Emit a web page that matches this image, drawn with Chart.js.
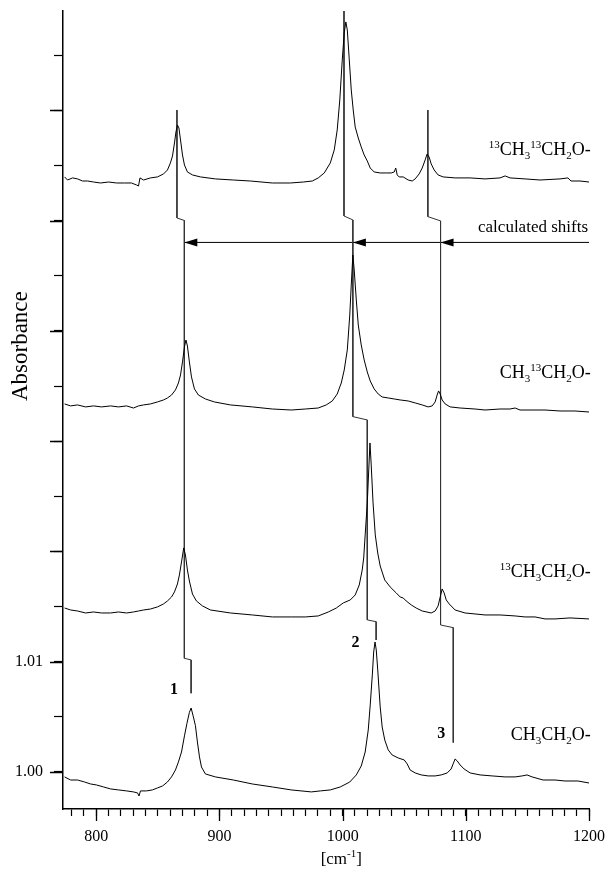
<!DOCTYPE html>
<html>
<head>
<meta charset="utf-8">
<script src="https://cdn.jsdelivr.net/npm/chart.js@4.4.0/dist/chart.umd.min.js"></script>
<style>
  body { margin: 0; background: #fff; }
  canvas { display: block; }
</style>
</head>
<body>
<canvas id="myChart" width="607" height="869"></canvas>
<script>
// spectra, wavenumber [cm-1] / absorbance, top one first
const wnA = [774.3, 776.7, 780.8, 784.8, 788.9, 793.0, 797.8, 803.5, 810.0, 816.5, 822.9, 828.6, 832.7, 834.3, 835.5, 838.4, 844.0, 849.7, 854.6, 857.8, 860.2, 861.9, 863.5, 864.7, 865.9, 867.1, 868.4, 870.0, 871.6, 874.0, 878.1, 884.6, 896.7, 911.3, 925.1, 942.9, 957.5, 968.1, 975.4, 980.2, 985.1, 990.0, 993.2, 995.6, 997.7, 999.7, 1001.3, 1002.6, 1003.8, 1005.4, 1007.0, 1008.6, 1010.2, 1012.7, 1015.1, 1017.5, 1020.0, 1022.4, 1025.6, 1030.5, 1035.4, 1039.4, 1041.9, 1043.1, 1044.3, 1045.9, 1049.2, 1053.2, 1056.5, 1058.9, 1062.1, 1064.6, 1067.0, 1068.6, 1070.2, 1071.9, 1074.3, 1077.5, 1081.6, 1091.3, 1103.5, 1115.6, 1127.8, 1131.9, 1135.9, 1148.1, 1160.2, 1176.5, 1182.9, 1185.4, 1192.7, 1200.0]
const absA = [1.05397, 1.05369, 1.05388, 1.05379, 1.05360, 1.05360, 1.05351, 1.05342, 1.05351, 1.05342, 1.05342, 1.05342, 1.05324, 1.05315, 1.05388, 1.05369, 1.05388, 1.05397, 1.05424, 1.05460, 1.05524, 1.05587, 1.05705, 1.05805, 1.05868, 1.05841, 1.05732, 1.05596, 1.05505, 1.05442, 1.05415, 1.05397, 1.05379, 1.05369, 1.05360, 1.05342, 1.05342, 1.05351, 1.05360, 1.05388, 1.05433, 1.05524, 1.05642, 1.05823, 1.06095, 1.06458, 1.06703, 1.06803, 1.06730, 1.06458, 1.06186, 1.06004, 1.05850, 1.05750, 1.05669, 1.05596, 1.05542, 1.05478, 1.05442, 1.05433, 1.05433, 1.05433, 1.05442, 1.05478, 1.05415, 1.05397, 1.05397, 1.05369, 1.05360, 1.05379, 1.05424, 1.05478, 1.05551, 1.05605, 1.05578, 1.05515, 1.05460, 1.05415, 1.05397, 1.05388, 1.05388, 1.05379, 1.05388, 1.05406, 1.05388, 1.05379, 1.05369, 1.05379, 1.05388, 1.05360, 1.05360, 1.05351]

const wnB = [774.3, 779.2, 784.8, 791.3, 797.8, 804.3, 811.6, 818.1, 824.6, 830.2, 834.3, 838.4, 844.0, 849.7, 854.6, 857.8, 861.1, 864.3, 866.7, 868.4, 870.0, 871.6, 872.8, 874.0, 875.6, 877.3, 879.7, 882.9, 888.6, 895.9, 908.9, 926.7, 942.9, 958.3, 969.7, 980.2, 986.7, 991.6, 995.6, 998.9, 1001.3, 1003.8, 1005.8, 1007.0, 1008.3, 1009.4, 1011.1, 1012.7, 1015.1, 1017.5, 1020.0, 1022.4, 1025.6, 1028.9, 1032.1, 1037.0, 1041.9, 1046.7, 1053.2, 1058.9, 1064.6, 1069.4, 1072.7, 1075.1, 1076.7, 1077.9, 1079.2, 1080.8, 1083.2, 1087.3, 1095.4, 1107.5, 1115.6, 1127.8, 1135.9, 1140.0, 1144.0, 1152.1, 1164.3, 1176.5, 1188.6, 1200.0]
const absB = [1.03338, 1.03320, 1.03329, 1.03311, 1.03320, 1.03311, 1.03320, 1.03311, 1.03320, 1.03301, 1.03320, 1.03329, 1.03338, 1.03356, 1.03374, 1.03392, 1.03419, 1.03465, 1.03528, 1.03601, 1.03719, 1.03855, 1.03918, 1.03864, 1.03719, 1.03583, 1.03474, 1.03419, 1.03383, 1.03356, 1.03329, 1.03311, 1.03292, 1.03283, 1.03292, 1.03301, 1.03329, 1.03365, 1.03428, 1.03528, 1.03646, 1.03828, 1.04145, 1.04417, 1.04689, 1.04553, 1.04281, 1.04054, 1.03873, 1.03737, 1.03628, 1.03546, 1.03474, 1.03428, 1.03401, 1.03392, 1.03383, 1.03374, 1.03365, 1.03347, 1.03329, 1.03311, 1.03320, 1.03356, 1.03419, 1.03456, 1.03428, 1.03374, 1.03338, 1.03311, 1.03301, 1.03292, 1.03283, 1.03292, 1.03292, 1.03301, 1.03283, 1.03283, 1.03283, 1.03274, 1.03274, 1.03265]

const wnC = [774.3, 779.2, 784.8, 791.3, 797.8, 804.3, 811.6, 818.1, 824.6, 830.2, 834.3, 838.4, 844.0, 849.7, 854.6, 857.8, 861.1, 863.5, 865.9, 867.5, 869.2, 871.0, 872.4, 874.0, 875.6, 878.1, 881.3, 886.2, 892.7, 908.9, 926.7, 942.9, 958.3, 969.7, 980.2, 988.4, 994.9, 1000.5, 1006.2, 1010.2, 1013.5, 1015.9, 1017.1, 1018.3, 1020.0, 1021.2, 1022.2, 1023.2, 1024.7, 1026.5, 1028.5, 1030.5, 1034.2, 1038.6, 1043.5, 1046.7, 1049.2, 1051.6, 1055.7, 1059.7, 1064.6, 1071.9, 1075.1, 1077.5, 1079.2, 1080.8, 1082.4, 1084.1, 1086.5, 1091.3, 1099.4, 1107.5, 1115.6, 1127.8, 1140.0, 1148.1, 1156.2, 1164.3, 1172.4, 1184.6, 1200.0]
const absC = [1.01487, 1.01469, 1.01460, 1.01442, 1.01451, 1.01442, 1.01442, 1.01451, 1.01442, 1.01451, 1.01460, 1.01469, 1.01478, 1.01497, 1.01524, 1.01551, 1.01587, 1.01633, 1.01705, 1.01787, 1.01905, 1.02032, 1.01968, 1.01832, 1.01732, 1.01614, 1.01551, 1.01506, 1.01469, 1.01442, 1.01424, 1.01406, 1.01406, 1.01406, 1.01415, 1.01451, 1.01487, 1.01533, 1.01560, 1.01605, 1.01696, 1.01832, 1.01941, 1.02150, 1.02440, 1.02739, 1.02984, 1.02785, 1.02440, 1.02150, 1.01986, 1.01868, 1.01741, 1.01678, 1.01624, 1.01587, 1.01578, 1.01551, 1.01515, 1.01487, 1.01460, 1.01442, 1.01460, 1.01506, 1.01587, 1.01660, 1.01624, 1.01560, 1.01524, 1.01469, 1.01442, 1.01433, 1.01424, 1.01424, 1.01415, 1.01406, 1.01406, 1.01388, 1.01388, 1.01397, 1.01388]

const wnD = [774.3, 779.2, 784.8, 790.5, 795.4, 800.2, 805.9, 811.6, 818.1, 824.6, 830.2, 833.5, 834.7, 835.9, 840.8, 845.6, 849.7, 853.8, 857.8, 861.1, 864.3, 866.7, 869.2, 871.6, 873.6, 875.6, 877.0, 878.5, 880.5, 882.1, 883.8, 885.4, 888.6, 896.7, 911.3, 926.7, 942.9, 958.3, 974.6, 981.9, 990.0, 998.1, 1005.8, 1011.1, 1015.1, 1018.3, 1020.8, 1022.4, 1024.1, 1025.2, 1026.3, 1027.3, 1028.5, 1030.5, 1032.1, 1034.2, 1037.0, 1040.2, 1045.1, 1050.0, 1052.4, 1054.8, 1058.9, 1063.8, 1069.4, 1075.1, 1080.0, 1084.9, 1088.1, 1089.7, 1091.3, 1093.0, 1095.4, 1098.6, 1103.5, 1111.6, 1121.4, 1131.9, 1140.0, 1145.7, 1149.7, 1153.8, 1162.7, 1172.4, 1180.5, 1191.0, 1200.0]
const absD = [0.99955, 0.99927, 0.99927, 0.99909, 0.99891, 0.99882, 0.99864, 0.99846, 0.99837, 0.99828, 0.99819, 0.99810, 0.99782, 0.99828, 0.99828, 0.99837, 0.99855, 0.99873, 0.99909, 0.99955, 1.00018, 1.00091, 1.00181, 1.00327, 1.00440, 1.00540, 1.00580, 1.00515, 1.00420, 1.00272, 1.00136, 1.00045, 0.99982, 0.99955, 0.99927, 0.99891, 0.99864, 0.99837, 0.99819, 0.99828, 0.99837, 0.99864, 0.99909, 0.99973, 1.00054, 1.00181, 1.00381, 1.00608, 1.00880, 1.01088, 1.01179, 1.01107, 1.00925, 1.00590, 1.00408, 1.00290, 1.00200, 1.00154, 1.00127, 1.00109, 1.00073, 1.00018, 0.99991, 0.99973, 0.99964, 0.99964, 0.99973, 0.99991, 1.00027, 1.00073, 1.00118, 1.00100, 1.00063, 1.00027, 0.99991, 0.99973, 0.99964, 0.99955, 0.99955, 0.99964, 0.99973, 0.99955, 0.99927, 0.99927, 0.99918, 0.99918, 0.99900]

// peak position lines 1, 2, 3 (stepping from one spectrum to the next)
const line1Wn = [865.5, 865.5, 871.5, 871.5, 877.0, 877.0]
const line1Abs = [1.06004, 1.05025, 1.05002, 1.01031, 1.01016, 1.00714]
const line2Wn = [1001.1, 1001.1, 1008.3, 1008.3, 1020.0, 1020.0, 1027.2, 1027.2]
const line2Abs = [1.06902, 1.05043, 1.05007, 1.03223, 1.03193, 1.01379, 1.01363, 1.01197]
const line3Wn = [1069.2, 1069.2, 1079.5, 1079.5, 1089.8, 1089.8]
const line3Abs = [1.06004, 1.05037, 1.04998, 1.01333, 1.01309, 1.00266]

// "calculated shifts" arrow
const arrowWn = [871.5, 1200]
const arrowAbs = 1.04803
const arrowTips = [871.5, 1008.3, 1079.5]

// labels
const speciesNames = [
    [['13', 'sup'], ['CH', 'n'], ['3', 'sub'], ['13', 'sup'], ['CH', 'n'], ['2', 'sub'], ['O-', 'n']],
    [['CH', 'n'], ['3', 'sub'], ['13', 'sup'], ['CH', 'n'], ['2', 'sub'], ['O-', 'n']],
    [['13', 'sup'], ['CH', 'n'], ['3', 'sub'], ['CH', 'n'], ['2', 'sub'], ['O-', 'n']],
    [['CH', 'n'], ['3', 'sub'], ['CH', 'n'], ['2', 'sub'], ['O-', 'n']]
]
const speciesAbs = [1.05596, 1.03574, 1.01769, 1.00290]
const speciesWn = 1201.5
const peakNames = ['1', '2', '3']
const peakNameWn = [863.1, 1010.5, 1080.0]
const peakNameAbs = [1.00744, 1.01170, 1.00345]

const serif = '"Liberation Serif", "Times New Roman", serif'

const pts = (xs, ys) => xs.map((x, i) => ({x: x, y: ys[i]}))

function drawRich(ctx, parts, xPos, yBase, align, big, small) {
    let w = 0
    parts.forEach(p => {
        ctx.font = p[1] == 'n' ? big : small
        w += ctx.measureText(p[0]).width
    })
    let cx = align == 'right' ? xPos - w : (align == 'center' ? xPos - w / 2 : xPos)
    ctx.textAlign = 'left'
    ctx.textBaseline = 'alphabetic'
    parts.forEach(p => {
        ctx.font = p[1] == 'n' ? big : small
        const dy = p[1] == 'sup' ? -7 : (p[1] == 'sub' ? 4 : 0)
        ctx.fillText(p[0], cx, yBase + dy)
        cx += ctx.measureText(p[0]).width
    })
}

const extras = {
    id: 'extras',
    afterDraw(chart) {
        const {ctx, chartArea} = chart
        const x = chart.scales.x
        const y = chart.scales.y
        ctx.save()
        ctx.strokeStyle = '#000'
        ctx.fillStyle = '#000'

        // longer major ticks
        ctx.lineWidth = 1.3
        ctx.beginPath()
        for (let v = 800; v <= 1200; v += 100) {
            const px = Math.round(x.getPixelForValue(v)) + 0.5
            ctx.moveTo(px, chartArea.bottom)
            ctx.lineTo(px, chartArea.bottom + 12)
        }
        for (let i = 0; i <= 6; i++) {
            const py = Math.round(y.getPixelForValue(1 + i * 0.01)) + 0.5
            ctx.moveTo(chartArea.left, py)
            ctx.lineTo(chartArea.left - 13, py)
        }
        ctx.stroke()

        // arrow heads
        const ay = y.getPixelForValue(arrowAbs)
        arrowTips.forEach(t => {
            const ax = x.getPixelForValue(t)
            ctx.beginPath()
            ctx.moveTo(ax, ay)
            ctx.lineTo(ax + 13, ay - 4)
            ctx.lineTo(ax + 13, ay + 4)
            ctx.closePath()
            ctx.fill()
        })

        // species names
        speciesNames.forEach((parts, i) => {
            drawRich(ctx, parts, x.getPixelForValue(speciesWn), y.getPixelForValue(speciesAbs[i]), 'right', '18px ' + serif, '11px ' + serif)
        })

        ctx.font = '17px ' + serif
        ctx.textAlign = 'right'
        ctx.textBaseline = 'alphabetic'
        ctx.fillText('calculated shifts', x.getPixelForValue(1199.2), y.getPixelForValue(1.04901))

        ctx.font = 'bold 16px ' + serif
        ctx.textAlign = 'center'
        ctx.textBaseline = 'middle'
        peakNames.forEach((n, i) => {
            ctx.fillText(n, x.getPixelForValue(peakNameWn[i]), y.getPixelForValue(peakNameAbs[i]))
        })

        // axis titles
        ctx.save()
        ctx.translate(21, chartArea.top + chartArea.height * 0.42)
        ctx.rotate(-Math.PI / 2)
        ctx.font = '23px ' + serif
        ctx.textAlign = 'center'
        ctx.textBaseline = 'middle'
        ctx.fillText('Absorbance', 0, 0)
        ctx.restore()

        drawRich(ctx, [['[cm', 'n'], ['-1', 'sup'], [']', 'n']], chartArea.left + chartArea.width * 0.529, 864, 'center', '17px ' + serif, '11px ' + serif)

        ctx.restore()
    }
}

const trace = (data) => ({data: data, borderColor: '#000', borderWidth: 1, pointRadius: 0, tension: 0, fill: false})
const marker = (data) => ({data: data, borderColor: '#333', borderWidth: 1, pointRadius: 0, tension: 0, fill: false})

const ctx = document.getElementById('myChart').getContext('2d')
const myChart = new Chart(ctx, {
    type: 'line',
    data: {
        datasets: [
            trace(pts(wnA, absA)),
            trace(pts(wnB, absB)),
            trace(pts(wnC, absC)),
            trace(pts(wnD, absD)),
            marker(pts(line1Wn, line1Abs)),
            marker(pts(line2Wn, line2Abs)),
            marker(pts(line3Wn, line3Abs)),
            trace(pts(arrowWn, [arrowAbs, arrowAbs]))
        ]
    },
    options: {
        responsive: false,
        animation: false,
        devicePixelRatio: 1,
        layout: { padding: { top: 11, right: 18, left: 0, bottom: 0 } },
        plugins: {
            legend: { display: false },
            tooltip: { enabled: false }
        },
        scales: {
            x: {
                type: 'linear',
                min: 773,
                max: 1200,
                afterFit: (scale) => {
                    scale.height = 60
                    scale.paddingLeft = 0
                    scale.paddingRight = 0
                },
                grid: { drawOnChartArea: false, color: '#000', tickLength: 7, tickWidth: 1.2 },
                border: { color: '#000', width: 1.5 },
                ticks: {
                    stepSize: 10,
                    includeBounds: false,
                    autoSkip: false,
                    maxRotation: 0,
                    padding: 11,
                    color: '#000',
                    font: { family: serif, size: 16 },
                    callback: (v) => (Math.round(v) % 100 === 0 ? String(Math.round(v)) : '')
                }
            },
            y: {
                type: 'linear',
                min: 0.99664,
                max: 1.06902,
                afterFit: (scale) => {
                    scale.width = 63
                    scale.paddingTop = 0
                    scale.paddingBottom = 0
                },
                grid: { drawOnChartArea: false, color: '#000', tickLength: 9, tickWidth: 1.2 },
                border: { color: '#000', width: 1.5 },
                ticks: {
                    stepSize: 0.005,
                    includeBounds: false,
                    autoSkip: false,
                    padding: 11,
                    color: '#000',
                    font: { family: serif, size: 16 },
                    callback: (v) => {
                        if (Math.abs(v - 1) < 1e-6) return '1.00'
                        if (Math.abs(v - 1.01) < 1e-6) return '1.01'
                        return ''
                    }
                }
            }
        }
    },
    plugins: [extras]
})
</script>
</body>
</html>
